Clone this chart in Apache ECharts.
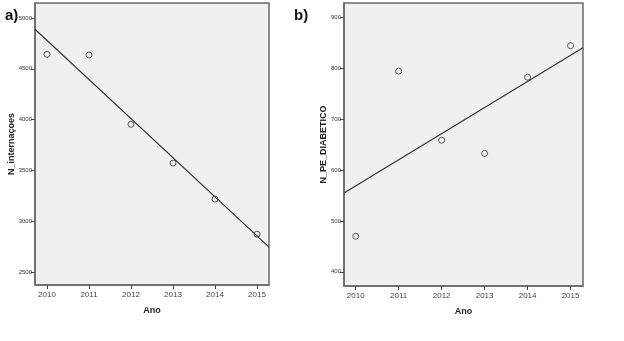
<!DOCTYPE html>
<html>
<head>
<meta charset="utf-8">
<script src="https://cdn.jsdelivr.net/npm/echarts@6/dist/echarts.min.js"></script>
<style>
  html, body { margin: 0; padding: 0; background: #fff; }
  #chart { width: 624px; height: 341px; }
</style>
</head>
<body>
<div id="chart"></div>
<script>
// anos (eixo x)
var anos = [2010, 2011, 2012, 2013, 2014, 2015];
// a) numero de internacoes
var internacoes = [4643, 4636, 3954, 3572, 3217, 2872];
// b) pe diabetico
var peDiabetico = [470, 795, 659, 633, 783, 845];
// retas de ajuste (extremos do eixo)
var retaA = [[2009.714, 4889], [2015.286, 2745]];
var retaB = [[2009.727, 555], [2015.29, 841]];
// marcas dos eixos y
var ticksA = [2500, 3000, 3500, 4000, 4500, 5000];
var ticksB = [400, 500, 600, 700, 800, 900];

var myChart = echarts.init(document.getElementById("chart"));

var fonte = "Liberation Sans Narrow, Liberation Sans, sans-serif";
var corEixo = '#6a6a6a';

function semMilhar(v) {
    return String(v);
}

function eixoX(idx, min, max) {
    return {
        type: 'value',
        gridIndex: idx,
        min: min,
        max: max,
        name: 'Ano',
        nameLocation: 'middle',
        nameGap: 21,
        nameMoveOverlap: false,
        nameTextStyle: { color: '#222', fontSize: 9, fontWeight: 'bold', fontFamily: fonte },
        axisLine: { show: true, lineStyle: { color: corEixo, width: 1.5 } },
        axisTick: { show: true, length: 4, customValues: anos, lineStyle: { color: '#444' } },
        axisLabel: { customValues: anos, formatter: semMilhar, color: '#444', fontSize: 8, fontFamily: fonte, margin: 6 },
        splitLine: { show: false }
    };
}

function eixoY(idx, min, max, ticks, nome, gap) {
    return {
        type: 'value',
        gridIndex: idx,
        min: min,
        max: max,
        name: nome,
        nameLocation: 'middle',
        nameGap: gap,
        nameMoveOverlap: false,
        nameTextStyle: { color: '#222', fontSize: 9, fontWeight: 'bold', fontFamily: "Liberation Sans, sans-serif" },
        axisLine: { show: true, lineStyle: { color: corEixo, width: 1.5 } },
        axisTick: { show: true, length: 4, customValues: ticks, lineStyle: { color: '#444' } },
        axisLabel: { customValues: ticks, formatter: semMilhar, color: '#333', fontSize: 6, fontFamily: fonte, margin: 3 },
        splitLine: { show: false }
    };
}

var option = {
    backgroundColor: '#ffffff',
    animation: false,
    title: [
        { text: 'a)', left: 5, top: 8, padding: 0, textStyle: { fontSize: 15, fontWeight: 'bold', color: '#111', fontFamily: fonte } },
        { text: 'b)', left: 294, top: 8, padding: 0, textStyle: { fontSize: 15, fontWeight: 'bold', color: '#111', fontFamily: fonte } }
    ],
    grid: [
        { left: 35, top: 3, width: 234, height: 282, show: true, backgroundColor: '#f0f0f0', borderColor: corEixo, borderWidth: 1.5 },
        { left: 344, top: 3, width: 239, height: 283, show: true, backgroundColor: '#f0f0f0', borderColor: corEixo, borderWidth: 1.5 }
    ],
    xAxis: [
        eixoX(0, 2009.714, 2015.286),
        eixoX(1, 2009.727, 2015.29)
    ],
    yAxis: [
        eixoY(0, 2372, 5148, ticksA, 'N_internaçoes', 19),
        eixoY(1, 372, 929, ticksB, 'N_PE_DIABETICO', 16)
    ],
    series: [
        {
            type: 'line', xAxisIndex: 0, yAxisIndex: 0,
            data: retaA, showSymbol: false, silent: true,
            lineStyle: { color: '#333', width: 1.2 }
        },
        {
            type: 'scatter', xAxisIndex: 0, yAxisIndex: 0,
            data: anos.map(function (a, i) { return [a, internacoes[i]]; }),
            symbol: 'circle', symbolSize: 6,
            itemStyle: { color: '#f0f0f0', borderColor: '#333', borderWidth: 1 }
        },
        {
            type: 'line', xAxisIndex: 1, yAxisIndex: 1,
            data: retaB, showSymbol: false, silent: true,
            lineStyle: { color: '#333', width: 1.2 }
        },
        {
            type: 'scatter', xAxisIndex: 1, yAxisIndex: 1,
            data: anos.map(function (a, i) { return [a, peDiabetico[i]]; }),
            symbol: 'circle', symbolSize: 6,
            itemStyle: { color: '#f0f0f0', borderColor: '#333', borderWidth: 1 }
        }
    ]
};

myChart.setOption(option);
window.addEventListener("resize", function () {
    myChart.resize();
});
</script>
</body>
</html>
